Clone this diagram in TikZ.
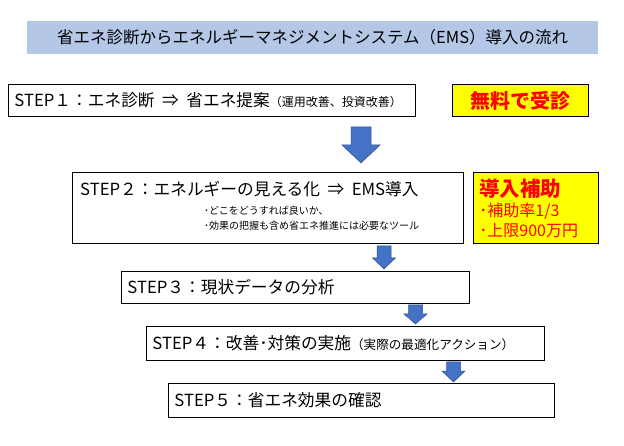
\documentclass[tikz,border=0pt]{standalone}
\usepackage{fontspec}
\setmainfont{Noto Sans CJK JP}
\definecolor{titleblue}{RGB}{180,199,231}
\definecolor{arrowblue}{RGB}{68,114,196}
\definecolor{arrowedge}{RGB}{47,82,143}
\definecolor{hlyellow}{RGB}{255,255,0}
\definecolor{hlred}{RGB}{255,0,0}
\def\Imp{\hspace{0.45em}⇒\hspace{0.45em}}
% down block arrow: x, top, neck, tip, shaft half, head half
\newcommand{\dnarrow}[6]{%
  \filldraw[blockarrow] (#1-#5,#2) -- (#1+#5,#2) -- (#1+#5,#3) -- (#1+#6,#3)
    -- (#1,#4) -- (#1-#6,#3) -- (#1-#5,#3) -- cycle;}

\begin{document}
\begin{tikzpicture}[x=1pt, y=-1pt,
  stepbox/.style={draw, line width=0.9pt, anchor=north west, inner xsep=6pt,
    align=left, font=\fontsize{16.7}{19}\selectfont},
  steptext/.style={anchor=base west, inner sep=0pt, font=\fontsize{16.7}{19}\selectfont},
  subtext/.style={anchor=base west, inner sep=0pt, font=\fontsize{10}{12}\selectfont},
  hlbox/.style={draw, line width=0.9pt, fill=hlyellow, text=hlred, anchor=north west},
  titlebar/.style={fill=titleblue, anchor=north west, minimum width=571, minimum height=33,
    font=\fontsize{16.5}{18}\selectfont},
  blockarrow/.style={fill=arrowblue, draw=arrowedge, line width=0.5pt}]
  \fill[white] (0,0) rectangle (624,446);
  \useasboundingbox (0,0) rectangle (624,446);

  \node[titlebar] (title) at (27,21)
    {省エネ診断からエネルギーマネジメントシステム（EMS）導入の流れ};

  \node[stepbox, text width=395, minimum height=32] (s1) at (8,84)
    {STEP１：エネ診断\Imp 省エネ提案{\fontsize{12}{13}\selectfont （運用改善、投資改善）}};
  \node[hlbox, minimum width=136, minimum height=32,
    font=\bfseries\fontsize{20}{22}\selectfont] (free) at (452,84) {無料で受診};

  \dnarrow{361}{127}{145}{163}{10}{19}

  \node[draw, line width=0.9pt, anchor=north west, minimum width=391, minimum height=71,
    inner sep=0pt] (s2) at (72,172) {};
  \node[steptext] (s2t) at ([xshift=8pt, yshift=-24pt]s2.north west)
    {STEP２：エネルギーの見える化\Imp EMS導入};
  \node[subtext] (s2a) at ([xshift=132pt, yshift=-43pt]s2.north west)
    {･どこをどうすれば良いか、};
  \node[subtext] (s2b) at ([xshift=132pt, yshift=-58pt]s2.north west)
    {･効果の把握も含め省エネ推進には必要なツール};

  \node[hlbox, text width=113, minimum height=71, inner xsep=6pt, align=left,
    font=\fontsize{16}{20}\selectfont] (hojo) at (473,172)
    {{\bfseries\fontsize{20.5}{20}\selectfont 導入補助}\\･補助率1/3\\･上限900万円};

  \dnarrow{384}{246}{258}{269}{7}{11.5}

  \node[stepbox, text width=336, minimum height=32] (s3) at (121,271)
    {STEP３：現状データの分析};

  \dnarrow{415.5}{305}{314}{324}{7}{11.5}

  \node[stepbox, text width=386, minimum height=34] (s4) at (146,326)
    {STEP４：改善･対策の実施{\fontsize{12.6}{13}\selectfont （実際の最適化アクション）}};

  \dnarrow{453.5}{362}{371}{382}{7}{11.5}

  \node[stepbox, text width=374, minimum height=34] (s5) at (168,383)
    {STEP５：省エネ効果の確認};
\end{tikzpicture}
\end{document}
